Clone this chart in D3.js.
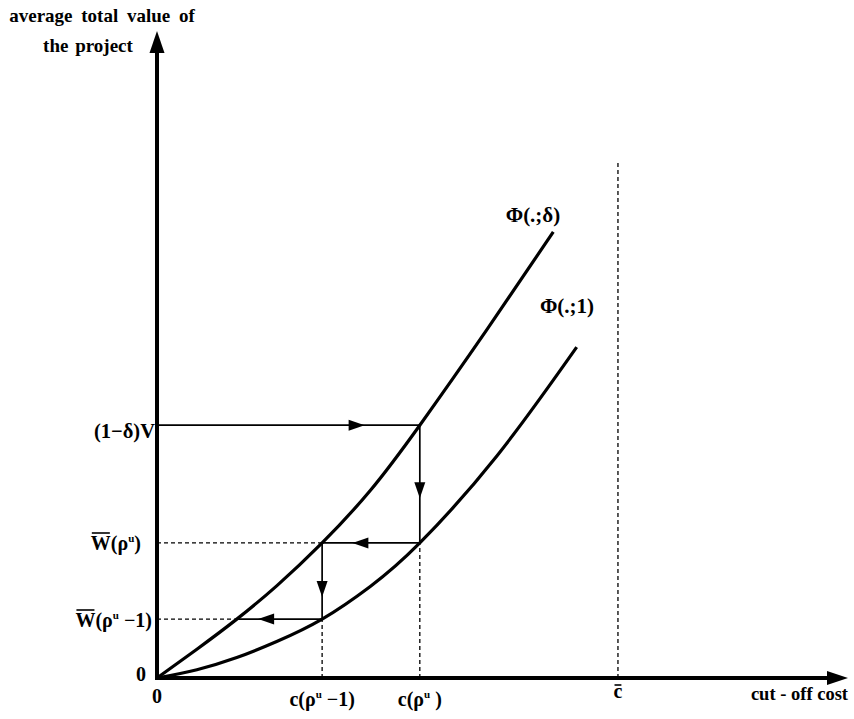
<!DOCTYPE html>
<html><head><meta charset="utf-8">
<script src="https://cdn.jsdelivr.net/npm/d3@7"></script>
<style>
html,body{margin:0;padding:0;background:#fff;}
svg{display:block;}
text{font-family:"Liberation Serif","Times New Roman",serif;font-weight:bold;fill:#000;white-space:pre;}
</style></head>
<body>
<script>
// ---- data (abstract units) ----
const phiDeltaX = [0, 0.58, 1.16, 1.74, 2.40, 3.10, 3.82, 4.80, 5.76];
const phiDeltaY = [0, 0.45, 0.92, 1.44, 2.11, 2.93, 3.95, 5.45, 6.97];
const phiOneX   = [0, 0.58, 1.16, 1.74, 2.40, 3.10, 3.82, 4.94, 6.10];
const phiOneY   = [0, 0.13, 0.32, 0.57, 0.92, 1.43, 2.11, 3.47, 5.17];
const costTicks  = [0, 2.40, 3.82, 6.70];          // 0, c(ρu−1), c(ρu), c̄
const valueTicks = [0, 0.92, 2.11, 3.95];          // 0, W(ρu−1), W(ρu), (1−δ)V
const cBarTop = 8.09;
const stepCost = 1.16;                              // where the last step meets Φ(.;δ)

const W = 854, H = 719;
const x = d3.scaleLinear().domain([0, 10]).range([157, 845]);
const y = d3.scaleLinear().domain([0, 10]).range([678, 38]);

const svg = d3.select("body").append("svg").attr("width", W).attr("height", H);

// arrowhead helper
function head(px, py, dir, len, hw) {
  const bx = px - len * Math.cos(dir), by = py - len * Math.sin(dir);
  const nx = -Math.sin(dir) * hw, ny = Math.cos(dir) * hw;
  svg.append("path")
    .attr("d", `M${px},${py}L${bx + nx},${by + ny}L${bx - nx},${by - ny}Z`)
    .attr("fill", "#000");
}

// dashed guides
function dline(x1, y1, x2, y2) {
  svg.append("line").attr("x1", x1).attr("y1", y1).attr("x2", x2).attr("y2", y2)
    .attr("stroke", "#000").attr("stroke-width", 1.3).attr("stroke-dasharray", "4,3");
}
dline(x(costTicks[3]), y(0), x(costTicks[3]), y(cBarTop));
dline(x(costTicks[1]), y(0), x(costTicks[1]), y(valueTicks[1]));
dline(x(costTicks[2]), y(0), x(costTicks[2]), y(valueTicks[2]));
dline(x(0), y(valueTicks[2]), x(costTicks[1]), y(valueTicks[2]));
dline(x(0), y(valueTicks[1]), x(stepCost), y(valueTicks[1]));

// curves
const line = d3.line().x(d => x(d[0])).y(d => y(d[1])).curve(d3.curveNatural);
svg.append("path").datum(phiDeltaX.map((v, i) => [v, phiDeltaY[i]]))
  .attr("d", line).attr("fill", "none").attr("stroke", "#000").attr("stroke-width", 3.2);
svg.append("path").datum(phiOneX.map((v, i) => [v, phiOneY[i]]))
  .attr("d", line).attr("fill", "none").attr("stroke", "#000").attr("stroke-width", 3.2);

// step arrows
const steps = [
  [[0, valueTicks[3]], [costTicks[2], valueTicks[3]], 0.79],
  [[costTicks[2], valueTicks[3]], [costTicks[2], valueTicks[2]], 0.62],
  [[costTicks[2], valueTicks[2]], [costTicks[1], valueTicks[2]], 0.69],
  [[costTicks[1], valueTicks[2]], [costTicks[1], valueTicks[1]], 0.71],
  [[costTicks[1], valueTicks[1]], [stepCost, valueTicks[1]], 0.75]
];
steps.forEach(([a, b, f]) => {
  const x1 = x(a[0]), y1 = y(a[1]), x2 = x(b[0]), y2 = y(b[1]);
  svg.append("line").attr("x1", x1).attr("y1", y1).attr("x2", x2).attr("y2", y2)
    .attr("stroke", "#000").attr("stroke-width", 1.7);
  const tx = x1 + (x2 - x1) * f, ty = y1 + (y2 - y1) * f;
  head(tx, ty, Math.atan2(y2 - y1, x2 - x1), 16, 5.5);
});

// axes
svg.append("line").attr("x1", x(0)).attr("y1", y(0)).attr("x2", 832).attr("y2", y(0))
  .attr("stroke", "#000").attr("stroke-width", 4);
svg.append("line").attr("x1", x(0)).attr("y1", y(0) + 2).attr("x2", x(0)).attr("y2", 50)
  .attr("stroke", "#000").attr("stroke-width", 4);
head(848, y(0), 0, 21, 7);
head(x(0), 31, -Math.PI / 2, 22, 7.5);

// text helpers
const FS = 20;
function label(px, py, anchor, parts, size) {
  const t = svg.append("text").attr("x", px).attr("y", py)
    .attr("text-anchor", anchor).attr("font-size", size || FS);
  parts.forEach(p => {
    const s = t.append("tspan").text(p.t);
    if (p.sup) s.attr("font-size", 11).attr("dy", -8);
    if (p.down) s.attr("dy", 8);
  });
  return t;
}
function overline(t, charIdx, yPos) {
  const bb = t.node().getExtentOfChar(charIdx);
  svg.append("line").attr("x1", bb.x + 1).attr("x2", bb.x + bb.width - 1)
    .attr("y1", yPos).attr("y2", yPos)
    .attr("stroke", "#000").attr("stroke-width", 1.6);
}

// axis titles
label(102, 22, "middle", [{t: "average total value of"}], 19).attr("word-spacing", 4);
label(88, 52, "middle", [{t: "the project"}], 19).attr("word-spacing", 2);
label(848, 700, "end", [{t: "cut - off cost"}], 18.5);

// y tick labels
label(146, 681, "end", [{t: "0"}]);
label(155, 438, "end", [{t: "(1\u2212\u03b4)V"}], 20.5);
const w1 = label(141, 550, "end", [{t: "W(\u03c1"}, {t: "u", sup: true}, {t: ")", down: true}]);
overline(w1, 0, 533);
const w0 = label(152, 627, "end", [{t: "W(\u03c1"}, {t: "u", sup: true}, {t: " \u22121)", down: true}]);
overline(w0, 0, 610);

// x tick labels
label(x(0), 703, "middle", [{t: "0"}]);
label(x(costTicks[1]), 706, "middle", [{t: "c(\u03c1"}, {t: "u", sup: true}, {t: " \u22121)", down: true}]);
label(x(costTicks[2]), 706, "middle", [{t: "c(\u03c1"}, {t: "u", sup: true}, {t: " )", down: true}]);
const cb = label(x(costTicks[3]), 698, "middle", [{t: "c"}]);
overline(cb, 0, 685);

// curve labels
label(533, 222, "middle", [{t: "\u03a6(.;\u03b4)"}], 21);
label(567, 313, "middle", [{t: "\u03a6(.;1)"}], 21);
</script>
</body></html>
